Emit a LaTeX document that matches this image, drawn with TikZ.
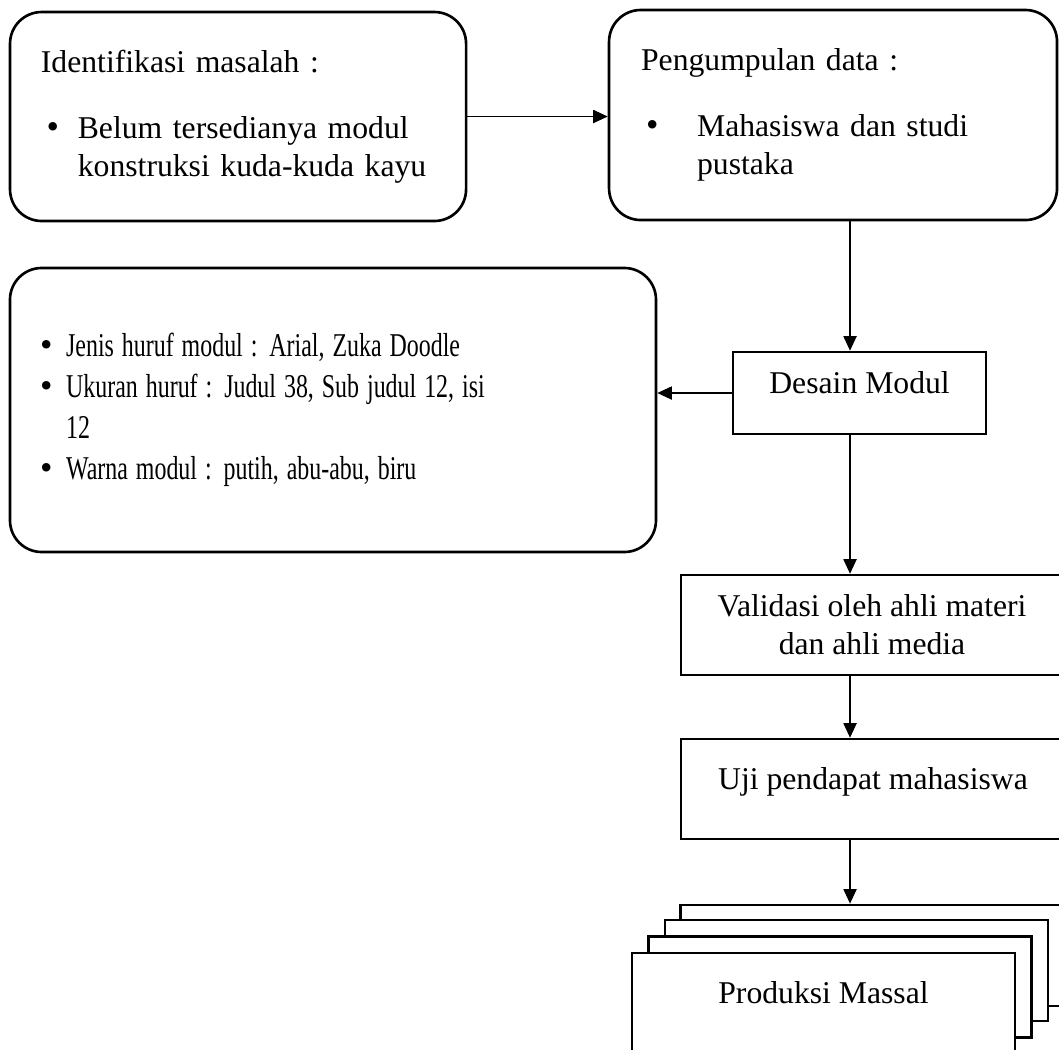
\documentclass[tikz,border=0pt]{standalone}
\usepackage{fontspec}
\usepackage{graphicx}
\setmainfont{Liberation Serif}
\usetikzlibrary{positioning,arrows.meta,calc}
\newcommand{\sempit}[1]{\scalebox{0.755}[1.05]{#1}}
\newcommand{\titik}{\scalebox{1.12}{\textbullet}}

\begin{document}
\begin{tikzpicture}[>={Triangle[length=5.5pt,width=5pt]},
	font=\fontsize{12pt}{14.4pt}\selectfont,
	kotak/.style={draw,line width=1pt,rounded corners=12pt,align=left},
	proses/.style={draw,line width=1pt,align=center,fill=white},
	panah/.style={->,line width=0.45pt}]
	\useasboundingbox (0,0) rectangle (14.098,-13.978);
	\clip (0,0) rectangle (14.098,-13.978);

	\node[kotak, minimum width=6.071cm, minimum height=2.782cm,
		  inner xsep=11.7pt, text width=5.249cm]
		  (identifikasi) at (3.169,-1.551)
		  {Identifikasi masalah :\\[10.6pt]
		   \hspace*{2.2pt}\makebox[11.8pt][l]{\titik}Belum tersedianya modul\\
		   \hspace*{14pt}konstruksi kuda-kuda kayu};
	\node[kotak, minimum width=5.964cm, minimum height=2.796cm,
		  inner xsep=12.1pt, text width=5.110cm]
		  (pengumpulan) at (11.090,-1.531)
		  {Pengumpulan data :\\[10.6pt]
		   \hspace*{1.9pt}\makebox[19.3pt][l]{\titik}Mahasiswa dan studi\\
		   \hspace*{21.2pt}pustaka};
	\node[kotak, minimum width=8.600cm, minimum height=3.781cm,
		  inner xsep=11.0pt, text width=7.80cm,
		  font=\fontsize{12pt}{15.5pt}\selectfont]
		  (spesifikasi) at (4.433,-5.458)
		  {\makebox[9.9pt][l]{\titik}\sempit{Jenis huruf modul : Arial, Zuka Doodle}\\
		   \makebox[9.9pt][l]{\titik}\sempit{Ukuran huruf : Judul 38, Sub judul 12, isi}\\
		   \hspace*{9.9pt}\sempit{12}\\
		   \makebox[9.9pt][l]{\titik}\sempit{Warna modul : putih, abu-abu, biru}};

	\node[proses, minimum width=3.368cm, minimum height=1.092cm,
		  text height=8pt, text depth=8pt]
		  (desain) at (11.443,-5.232) {Desain Modul};
	\node[proses, minimum width=5.086cm, minimum height=1.331cm]
		  (validasi) at (11.609,-8.321)
		  {Validasi oleh ahli materi\\dan ahli media};
	\node[proses, minimum width=5.112cm, minimum height=1.331cm,
		  text height=8pt, text depth=8pt]
		  (uji) at (11.622,-10.504) {Uji pendapat mahasiswa};

	% tumpukan produksi
	\node[proses, minimum width=5.099cm, minimum height=1.345cm]
		  (produksi4) at (11.610,-12.720) {};
	\node[proses, minimum width=5.099cm, minimum height=1.345cm]
		  (produksi3) at (11.403,-12.920) {};
	\node[proses, minimum width=5.099cm, minimum height=1.345cm]
		  (produksi2) at (11.183,-13.140) {};
	\node[proses, minimum width=5.099cm, minimum height=1.345cm,
		  text height=8pt, text depth=8pt]
		  (produksi1) at (10.963,-13.360) {Produksi Massal};

	\coordinate (alur) at (11.316,0);

	\draw[panah] (identifikasi.east) -- (identifikasi.east -| pengumpulan.west);
	\draw[panah] (pengumpulan.south -| alur) -- (desain.north -| alur);
	\draw[panah] (desain.west) -- (desain.west -| spesifikasi.east);
	\draw[panah] (desain.south -| alur) -- (validasi.north -| alur);
	\draw[panah] (validasi.south -| alur) -- (uji.north -| alur);
	\draw[panah] (uji.south -| alur) -- (produksi4.north -| alur);
\end{tikzpicture}
\end{document}
